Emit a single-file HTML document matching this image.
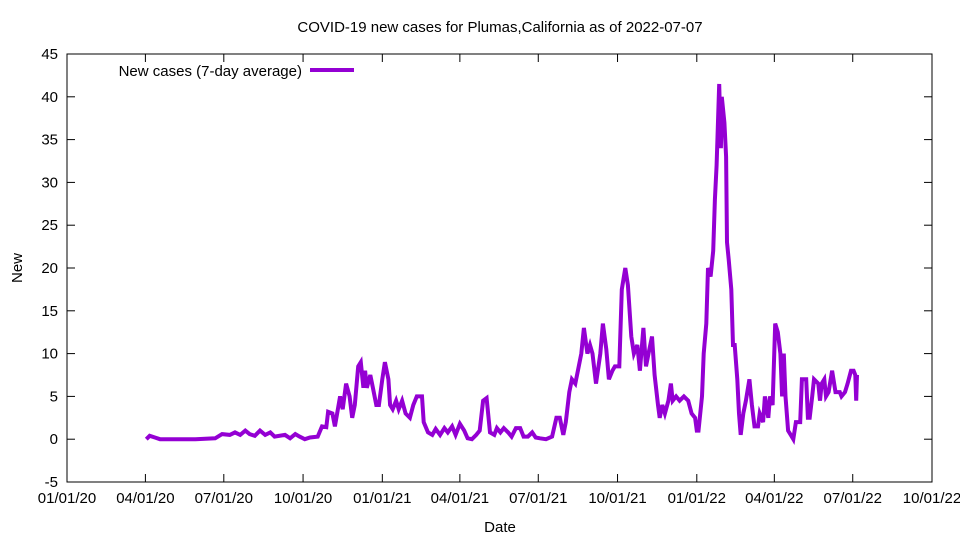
<!DOCTYPE html>
<html><head><meta charset="utf-8"><style>
body{margin:0;background:#fff;}
svg{display:block;font-family:"Liberation Sans",sans-serif;}
</style></head><body>
<svg id="chart" width="960" height="540">
<text x="500" y="32" text-anchor="middle" font-size="15">COVID-19 new cases for Plumas,California as of 2022-07-07</text>
<text x="500" y="532" text-anchor="middle" font-size="15">Date</text>
<text x="22" y="268" text-anchor="middle" font-size="15" transform="rotate(-90 22 268)">New</text>
<g id="axes"></g>
<g id="series"></g>
<g>
<text x="302" y="76" text-anchor="end" font-size="15">New cases (7-day average)</text>
<line x1="310" y1="70" x2="354" y2="70" stroke="#9400d3" stroke-width="4"/>
</g>
</svg>
<script>
const dayOffsets=[92,96,102,108,143,149,172,180,189,195,201,207,212,218,224,230,236,241,253,259,265,270,276,282,291,296,301,303,308,311,317,320,324,328,331,334,338,341,344,346,348,352,355,359,362,366,369,373,375,378,382,385,389,393,398,402,406,412,414,419,424,428,433,438,442,447,451,456,461,465,470,475,479,483,487,491,496,499,503,507,512,516,521,526,530,535,540,544,549,556,563,568,572,576,579,583,586,590,593,597,600,604,607,610,614,619,622,626,629,633,636,641,644,648,651,655,658,662,665,669,672,675,679,682,686,688,691,694,698,701,703,707,711,716,721,725,729,731,733,737,739,742,744,747,750,752,754,757,759,760,763,765,766,768,771,773,775,778,780,782,785,788,792,795,798,802,804,808,810,814,816,819,822,825,828,830,832,834,837,840,843,846,851,853,858,860,862,865,867,872,874,876,879,881,884,888,892,897,899,903,906,910,913,915,916,917];
const newCases=[0,0.4,0.2,0,0,0,0.1,0.6,0.5,0.8,0.5,1,0.6,0.4,1,0.5,0.8,0.3,0.5,0.1,0.6,0.3,0,0.2,0.3,1.5,1.4,3.2,3,1.5,5,3.5,6.5,5,2.5,4,8.5,9,6,8,6,7.5,6,4,4,7,9,7,4,3.5,4.5,3.5,4.5,3,2.5,4,5,5,2,0.8,0.5,1.2,0.5,1.3,0.8,1.5,0.5,1.8,1,0.1,0,0.5,1,4.5,4.8,0.8,0.5,1.3,0.8,1.3,0.8,0.3,1.3,1.3,0.3,0.3,0.8,0.2,0.1,0,0.3,2.5,2.5,0.5,2,5.5,7,6.5,8,10,13,10,11,10,6.5,10,13.5,10.5,7,8,8.5,8.5,17.5,20,18,12,10,11,8,13,8.5,10,12,7.5,4,2.5,4,3,4.5,6.5,4.5,5,4.5,5,4.5,3,2.5,1,1,5,10,13.5,20,19,22,28,32,41.5,34,40,37,33,23,21,17.5,11,11,7,3,0.5,3,4.5,7,4,1.5,1.5,3,2,5,2.5,5,4,13.5,12.5,10,5,10,5,1,0.5,0,2,2,7,7,2.5,2.5,5,7,6.5,4.5,6.5,7,5,5.5,8,5.5,5.5,5,5.5,6.5,8,8,7.5,4.5,7.5];
const xTickLabels=["01/01/20","04/01/20","07/01/20","10/01/20","01/01/21","04/01/21","07/01/21","10/01/21","01/01/22","04/01/22","07/01/22","10/01/22"];
const xTickDays=[0,91,182,274,366,456,547,639,731,821,912,1004];
const yTicks=[-5,0,5,10,15,20,25,30,35,40,45];

const L=67,R=932,T=54,B=482,XMAX=1004,YMIN=-5,YMAX=45;
const xs=d=>L+(R-L)*d/XMAX;
const ys=v=>B-(B-T)*(v-YMIN)/(YMAX-YMIN);
const NS="http://www.w3.org/2000/svg";
const axes=document.getElementById('axes');
function mk(tag,attrs,parent){const e=document.createElementNS(NS,tag);for(const k in attrs)e.setAttribute(k,attrs[k]);parent.appendChild(e);return e;}
const frame=mk('rect',{x:L,y:T,width:R-L,height:B-T,fill:'none',stroke:'#000','stroke-width':1},axes);


yTicks.forEach(v=>{const y=ys(v);
 mk('line',{x1:L,y1:y,x2:L+8,y2:y,stroke:'#000'},axes);
 mk('line',{x1:R,y1:y,x2:R-8,y2:y,stroke:'#000'},axes);
 const t=mk('text',{x:L-9,y:y+5,'text-anchor':'end','font-size':15},axes);
 t.textContent=v;
 
 
});
xTickDays.forEach((d,i)=>{const x=xs(d);
 mk('line',{x1:x,y1:B,x2:x,y2:B-8,stroke:'#000'},axes);
 mk('line',{x1:x,y1:T,x2:x,y2:T+8,stroke:'#000'},axes);
 const t=mk('text',{x:x,y:503,'text-anchor':'middle','font-size':15},axes);
 t.textContent=xTickLabels[i];
 
 
});
const pts=dayOffsets.map((d,i)=>xs(d).toFixed(1)+','+ys(newCases[i]).toFixed(1)).join(' ');
const line=mk('polyline',{points:pts,fill:'none',stroke:'#9400d3','stroke-width':4,'stroke-linejoin':'miter'},document.getElementById('series'));


</script>
</body></html>
